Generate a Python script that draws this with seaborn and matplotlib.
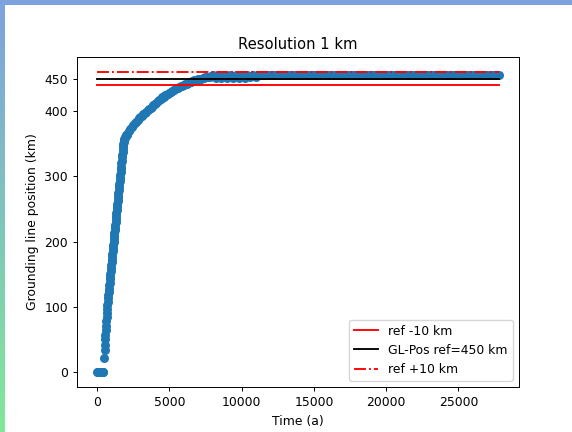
import numpy as np
import pandas as pd
import matplotlib
matplotlib.use("Agg")
import matplotlib.pyplot as plt
from matplotlib.patches import Rectangle
import seaborn as sns

# ---- data ----
time_initial = [0, 40, 80, 120, 160, 200, 240, 280, 320, 360, 400, 440]
gl_initial = [0, 0, 0, 0, 0, 0, 0, 0, 0, 0, 0, 0]

time_rise = [500, 520, 540, 560, 580, 600, 620, 640, 660, 680, 700, 720, 740,
             760, 780, 800, 820, 840, 860, 880, 900, 920, 940, 960, 980, 1000,
             1020, 1040, 1060, 1080, 1100, 1120, 1140, 1160, 1180, 1200, 1220,
             1240, 1260, 1280, 1300, 1320, 1340, 1360, 1380, 1400, 1420, 1440,
             1460, 1480, 1500, 1520, 1540, 1560, 1580, 1600, 1620, 1640, 1660,
             1680, 1700, 1720, 1740, 1760, 1780, 1800, 1820, 1840, 1860, 1880,
             1900, 1950, 2000, 2050, 2100]
gl_rise = [21, 34, 42, 50, 57, 64, 71, 78, 84, 90, 96, 102, 108,
           113, 118, 123, 128, 133, 137, 142, 146, 151, 155, 159, 164, 168,
           172, 177, 181, 186, 190, 195, 199, 204, 208, 213, 217,
           221, 226, 230, 235, 239, 244, 248, 253, 257, 262, 266,
           270, 275, 279, 284, 288, 293, 297, 302, 306, 311, 315,
           320, 324, 329, 333, 338, 342, 346, 349, 352, 355, 357,
           359, 361, 363, 364, 365]

time_slow = [2200, 2300, 2400, 2500, 2600, 2700, 2800, 2900, 3000, 3100, 3200,
             3300, 3400, 3500, 3600, 3700, 3800, 3900, 4000, 4100, 4200, 4300,
             4400, 4500, 4600, 4700, 4800, 4900, 5000, 5100, 5200, 5300, 5400,
             5500, 5600, 5700, 5800, 5900, 6000, 6100, 6200, 6300, 6400, 6500,
             6600, 6700, 6800, 6900, 7000, 7100, 7200, 7300, 7400, 7500, 7600,
             7700, 7800, 7900]
gl_slow = [369, 373, 376, 379, 382, 384, 387, 389, 391, 393, 395,
           397, 399, 401, 403, 405, 407, 409, 411, 413, 415, 417,
           419, 421, 422, 424, 425, 427, 428, 430, 431, 432, 434,
           435, 436, 437, 438, 439, 440, 441, 442, 443, 444, 445,
           446, 447, 447, 448, 449, 449, 450, 451, 451, 452, 452,
           453, 453, 454]

time_plateau = [8000, 8200, 8400, 8600, 8800, 9000, 9200, 9400, 9600, 9800,
                10000, 10200, 10400, 10600, 10800, 11000, 11200, 11400, 11600, 11800,
                12000, 12200, 12400, 12600, 12800, 13000, 13200, 13400, 13600, 13800,
                14000, 14200, 14400, 14600, 14800, 15000, 15200, 15400, 15600, 15800,
                16000, 16200, 16400, 16600, 16800, 17000, 17200, 17400, 17600, 17800,
                18000, 18200, 18400, 18600, 18800, 19000, 19200, 19400, 19600, 19800,
                20000, 20200, 20400, 20600, 20800, 21000, 21200, 21400, 21600, 21800,
                22000, 22200, 22400, 22600, 22800, 23000, 23200, 23400, 23600, 23800,
                24000, 24200, 24400, 24600, 24800, 25000, 25200, 25400, 25600, 25800,
                26000, 26200, 26400, 26600, 26800, 27000, 27200, 27400, 27600, 27800]
gl_plateau = [455, 451, 455, 451, 456, 451, 456, 451, 456, 451,
              456, 451, 455, 452, 455, 452, 455, 455, 455, 455,
              455, 455, 455, 455, 455, 455, 455, 455, 455, 455,
              455, 455, 455, 455, 455, 455, 455, 455, 455, 455,
              455, 455, 455, 455, 455, 455, 455, 455, 455, 455,
              455, 455, 455, 455, 455, 455, 455, 455, 455, 455,
              455, 455, 455, 455, 455, 455, 455, 455, 455, 455,
              455, 455, 455, 455, 455, 455, 455, 455, 455, 455,
              455, 455, 455, 455, 455, 455, 455, 455, 455, 455,
              455, 455, 455, 455, 455, 455, 455, 455, 455, 455]

gl_ref = 450
ref_offset = 10
x_ticks = [0, 5000, 10000, 15000, 20000, 25000]
y_ticks = [0, 100, 200, 300, 400, 450]

time = time_initial + time_rise + time_slow + time_plateau
gl_pos = gl_initial + gl_rise + gl_slow + gl_plateau
df = pd.DataFrame({"Time (a)": time, "Grounding line position (km)": gl_pos})

# ---- figure ----
fig = plt.figure(figsize=(5.72, 4.32), dpi=100)
fig.patch.set_facecolor("white")

# screenshot frame (top band and left gradient band)
fig.patches.append(Rectangle((0, 1 - 5 / 432), 1, 5 / 432, transform=fig.transFigure,
                             facecolor="#7ea2de", edgecolor="none", zorder=10))
c_top = np.array([126, 162, 222]) / 255
c_bot = np.array([128, 232, 152]) / 255
n_seg = 60
for i in range(n_seg):
    f = (i + 0.5) / n_seg
    col = c_top * (1 - f) + c_bot * f
    y_top = 1 - 5 / 432 - (1 - 5 / 432) * i / n_seg
    h = (1 - 5 / 432) / n_seg
    fig.patches.append(Rectangle((0, y_top - h), 5 / 572, h * 1.02, transform=fig.transFigure,
                                 facecolor=col, edgecolor="none", zorder=10))

ax = fig.add_axes([77 / 572, 1 - 387 / 432, 442 / 572, 330 / 432])

sns.scatterplot(data=df, x="Time (a)", y="Grounding line position (km)",
                ax=ax, s=42, linewidth=0, color="#1f77b4", legend=False)

t0, t1 = time[0], time[-1]
ax.plot([t0, t1], [gl_ref - ref_offset] * 2, color="red", lw=1.35, label="ref -10 km")
ax.plot([t0, t1], [gl_ref] * 2, color="black", lw=1.35, label="GL-Pos ref=450 km")
ax.plot([t0, t1], [gl_ref + ref_offset] * 2, color="red", lw=1.35, ls="-.", label="ref +10 km")

ax.set_xticks(x_ticks)
ax.set_yticks(y_ticks)
ax.tick_params(labelsize=8.9, length=3.1, width=0.7)
for sp in ax.spines.values():
    sp.set_linewidth(0.7)
ax.set_xlabel("Time (a)", fontsize=8.9)
ax.set_ylabel("Grounding line position (km)", fontsize=8.9)
ax.set_title("Resolution 1 km", fontsize=10.6)
ax.legend(loc="lower right", fontsize=8.9)

fig.savefig("out.png", dpi=100)
